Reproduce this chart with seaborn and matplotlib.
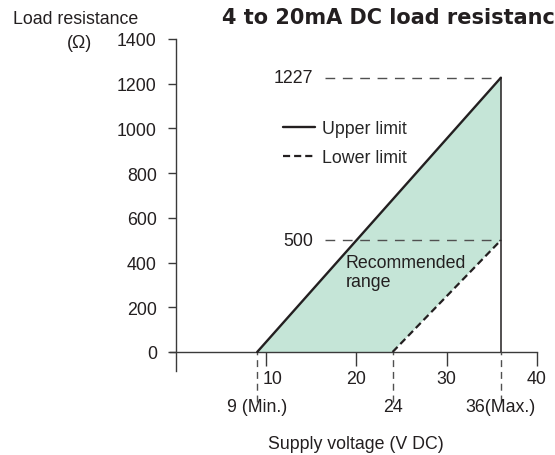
import matplotlib.pyplot as plt
import matplotlib.transforms as mtransforms
import seaborn as sns
from matplotlib.lines import Line2D

# data
upper_voltage = [9, 36]
upper_load = [0, 1227]
lower_voltage = [24, 36]
lower_load = [0, 500]
marked_voltage = [9, 24, 36]
marked_voltage_labels = ["9 (Min.)", "24", "36(Max.)"]
marked_load = [1227, 500]
marked_load_labels = ["1227", "500"]
y_ticks = [0, 200, 400, 600, 800, 1000, 1200, 1400]
x_ticks = [10, 20, 30, 40]

sns.set_style("white")
plt.rcParams["font.family"] = ["Liberation Sans", "DejaVu Sans"]
fs = 12.8
ink = "#231f20"
axis_col = "#3a3a3a"
guide_col = "#505050"

fig = plt.figure(figsize=(5.55, 4.56), dpi=100)
ax = fig.add_axes([170 / 555, 1 - 372 / 456, 367 / 555, 332 / 456])
ax.set_xlim(-0.66, 40)
ax.set_ylim(-85, 1400)

# recommended range
poly_x = upper_voltage + lower_voltage[::-1]
poly_y = upper_load + lower_load[::-1]
ax.fill(poly_x, poly_y, color="#c5e5d7", lw=0, zorder=1)

sns.lineplot(x=upper_voltage, y=upper_load, ax=ax, color=ink, lw=1.7, zorder=4)
sns.lineplot(x=lower_voltage, y=lower_load, ax=ax, color=ink, lw=1.6,
             linestyle=(0, (3.2, 1.8)), zorder=4)
ax.vlines(upper_voltage[-1], 0, upper_load[-1], color=ink, lw=1.1, zorder=4)

# guide lines for the limits
for val, lab in zip(marked_load, marked_load_labels):
    ax.hlines(val, 16.5, upper_voltage[-1], color=guide_col, lw=1.0,
              linestyle=(0, (7, 5.5)), zorder=3)
    ax.text(15.2, val, lab, ha="right", va="center", fontsize=fs, color=ink)

for v, lab in zip(marked_voltage, marked_voltage_labels):
    ax.vlines(v, -225, 0, color=guide_col, lw=1.0, linestyle=(0, (5, 3.5)),
              clip_on=False, zorder=3)
    ax.text(v, -246, lab, ha="center", va="center", fontsize=fs, color=ink,
            clip_on=False)

ax.text(18.8, 358, "Recommended\nrange", ha="left", va="center", fontsize=fs,
        color=ink, linespacing=1.2)

# axes
for s in ["top", "right"]:
    ax.spines[s].set_visible(False)
ax.spines["left"].set_position(("data", 0))
ax.spines["bottom"].set_position(("data", 0))
for s in ["left", "bottom"]:
    ax.spines[s].set_color(axis_col)
    ax.spines[s].set_linewidth(1.0)
ax.set_yticks(y_ticks)
ax.set_xticks(x_ticks)
ax.tick_params(axis="y", direction="out", length=5.8, width=1.0, pad=8,
               colors=axis_col, labelcolor=ink, labelsize=fs, left=True)
ax.tick_params(axis="x", direction="out", length=10, width=1.0, pad=3,
               colors=axis_col, labelcolor=ink, labelsize=fs, bottom=True)

# the "10" label sits a little right of its tick, clear of the 9 V guide
lbl10 = ax.get_xticklabels()[0]
lbl10.set_transform(lbl10.get_transform() +
                    mtransforms.ScaledTranslation(6 / 100, 0, fig.dpi_scale_trans))

handles = [Line2D([], [], color=ink, lw=1.7),
           Line2D([], [], color=ink, lw=1.6, linestyle=(0, (3.2, 1.8)))]
ax.legend(handles, ["Upper limit", "Lower limit"], loc="upper left",
          bbox_to_anchor=(0.308, 0.755), frameon=False, fontsize=fs,
          handlelength=1.8, handletextpad=0.4, labelspacing=0.68,
          borderpad=0, borderaxespad=0)

fig.text(13 / 555, 1 - 20 / 456, "Load resistance", ha="left", va="center",
         fontsize=fs, color=ink)
fig.text(79 / 555, 1 - 43 / 456, "(Ω)", ha="center", va="center",
         fontsize=fs, color=ink)
fig.text(222 / 555, 1 - 18 / 456, "4 to 20mA DC load resistance", ha="left",
         va="center", fontsize=15, fontweight="bold", color=ink,
         family=["DejaVu Sans"])
fig.text(356 / 555, 1 - 445 / 456, "Supply voltage (V DC)", ha="center",
         va="center", fontsize=fs, color=ink)

fig.savefig("out.png", dpi=100)
